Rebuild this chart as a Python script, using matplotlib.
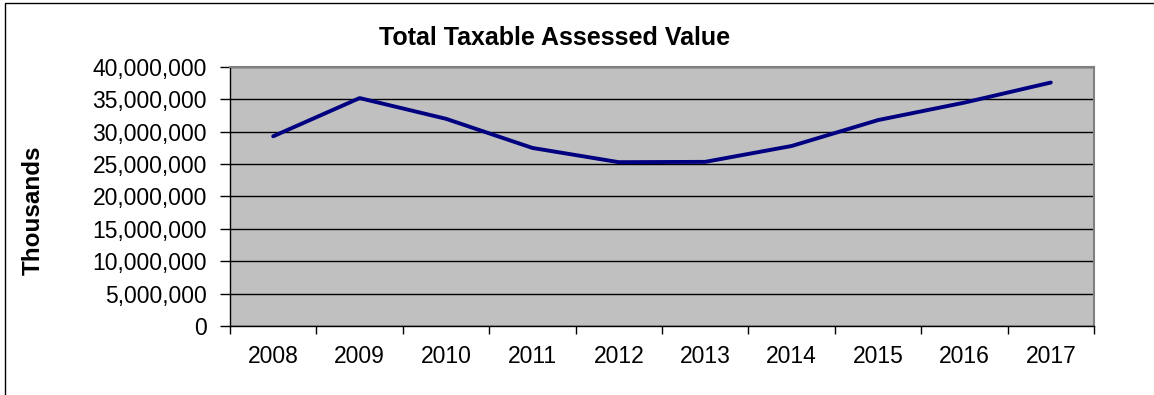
import matplotlib
matplotlib.use("Agg")
import matplotlib.pyplot as plt
from matplotlib.patches import Rectangle
from matplotlib.ticker import FuncFormatter, FixedLocator

years = ["2008", "2009", "2010", "2011", "2012", "2013", "2014", "2015", "2016", "2017"]
values = [29300000, 35200000, 32000000, 27500000, 25300000, 25350000, 27800000, 31800000, 34500000, 37600000]

plt.rcParams['font.family'] = ['Liberation Sans', 'DejaVu Sans']

W, H = 1154, 395
fig = plt.figure(figsize=(W / 100, H / 100), dpi=100)
fig.patch.set_facecolor('white')

# outer frame
fig.add_artist(Rectangle((5 / W, -0.1), 1.2, (H - 3) / H + 0.1, transform=fig.transFigure,
                         fill=False, edgecolor='black', linewidth=1.0))

left, right, top, bottom = 230, 1094, 67, 326
ax = fig.add_axes([left / W, 1 - bottom / H, (right - left) / W, (bottom - top) / H])
ax.set_facecolor('#c0c0c0')

x = list(range(len(years)))
ax.set_xlim(-0.5, len(years) - 0.5)
ax.set_ylim(0, 40000000)
ax.set_yticks(range(0, 40000001, 5000000))
ax.yaxis.set_major_formatter(FuncFormatter(lambda v, p: f"{int(v):,}"))
ax.yaxis.grid(True, color='black', linewidth=1.0)
ax.set_axisbelow(True)

ax.set_xticks(x)
ax.set_xticklabels(years)
ax.xaxis.set_minor_locator(FixedLocator([i - 0.5 for i in range(len(years) + 1)]))
ax.tick_params(axis='x', which='major', length=0, pad=14, labelsize=16.5)
ax.tick_params(axis='x', which='minor', length=6, width=1, direction='out', color='black')
ax.tick_params(axis='y', length=7, width=1, direction='out', color='black', pad=9.5, labelsize=16.5)

ax.plot(x, values, color='#000080', linewidth=2.8, solid_joinstyle='round', solid_capstyle='round')

for s in ['top', 'right']:
    ax.spines[s].set_color('#808080')
    ax.spines[s].set_linewidth(1.5)
for s in ['left', 'bottom']:
    ax.spines[s].set_color('black')
    ax.spines[s].set_linewidth(1.0)

fig.text(555 / W, 1 - 38 / H, "Total Taxable Assessed Value", ha='center', va='center',
         fontsize=18, fontweight='bold')
fig.text(33 / W, 1 - 210 / H, "Thousands", ha='center', va='center', rotation=90,
         fontsize=17.5, fontweight='bold')

fig.savefig("out.png", dpi=100)
